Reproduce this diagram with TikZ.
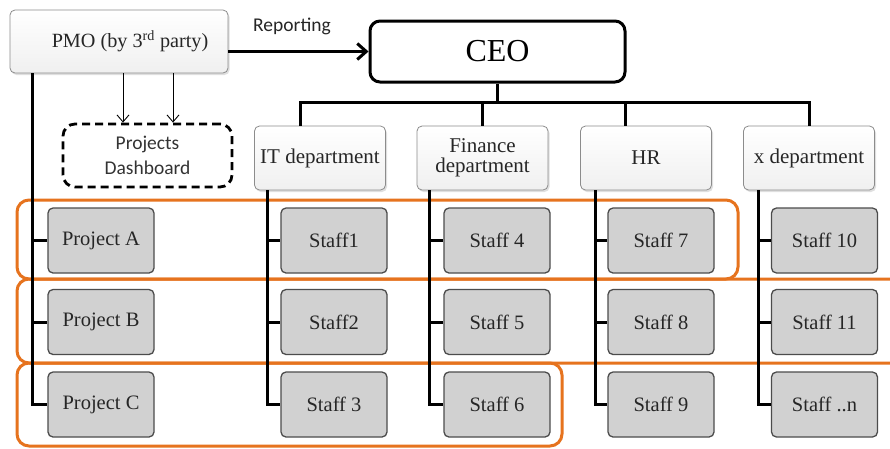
\documentclass[tikz,border=0pt]{standalone}
\usepackage{fontspec}
\setmainfont{Liberation Serif}
\newfontfamily\calfont{Carlito}
\usetikzlibrary{arrows.meta,shadows}
\definecolor{orng}{RGB}{230,115,30}
\begin{document}
\begin{tikzpicture}[x=1pt,y=-1pt]
\tikzset{
 dept/.style={draw=black!45, line width=0.8pt, rounded corners=5pt, top color=white, bottom color=black!6,
   drop shadow={opacity=0.25, shadow xshift=1.5pt, shadow yshift=-2pt},
   minimum width=131pt, minimum height=64pt, inner sep=0pt, align=center,
   font=\rmfamily\fontsize{21}{19.5}\selectfont, text=black!85},
 staffbox/.style={draw=black!70, line width=1.3pt, rounded corners=5pt, fill=black!18,
   minimum width=106pt, minimum height=65pt, inner sep=0pt,
   font=\rmfamily\fontsize{20.5}{22}\selectfont, text=black!85},
 conn/.style={line width=3pt, black},
 grp/.style={draw=orng, line width=3pt, rounded corners=12pt},
 thinarr/.style={line width=0.9pt, -{Straight Barb[length=7pt,width=12pt]}},
}
\useasboundingbox (0,0) rectangle (890,448);
\fill[white] (0,0) rectangle (890,448);
% orange groups
\begin{scope}
\clip (0,0) rectangle (890,448);
\draw[grp] (17,200) rectangle (738,279);
\draw[grp] (17,279) rectangle (910,363);
\draw[grp] (17,363) rectangle (562,446);
\end{scope}
% top nodes
\node[dept, minimum width=218pt, minimum height=63pt, font=\rmfamily\fontsize{20.2}{22}\selectfont] (PMO) at (119,41.5) {\hspace*{22pt}PMO (by 3\textsuperscript{rd} party)};
\node[draw, line width=3pt, rounded corners=10pt, fill=white, minimum width=255pt, minimum height=61pt, font=\rmfamily\fontsize{32}{36}\selectfont] (CEO) at (497.5,51.5) {CEO};
\node[font=\calfont\fontsize{19.5}{22}\selectfont, text=black!85] (rep) at (292,26) {Reporting};
\draw[conn, -{Straight Barb[length=9pt,width=16pt]}] (PMO.east |- CEO.west) -- (CEO.west);
\node[draw, line width=2.8pt, dash pattern=on 8pt off 5pt, rounded corners=12pt, minimum width=169pt, minimum height=63pt, align=center, font=\calfont\fontsize{19.5}{25}\selectfont, text=black!80] (dash) at (147.5,155.5) {Projects\\Dashboard};
\coordinate (d1) at ([xshift=-24.5pt]dash.north);
\coordinate (d2) at ([xshift=25.5pt]dash.north);
\draw[thinarr] (d1 |- PMO.south) -- (d1);
\draw[thinarr] (d2 |- PMO.south) -- (d2);
% departments
\node[dept] (IT) at (320,158) {IT department};
\node[dept] (Fin) at (482.5,158) {Finance\\department};
\node[dept] (HR) at (646,158) {HR};
\node[dept] (X) at (809,158) {x department};
\coordinate (bus) at (497.5,102);
\coordinate (itd) at ([xshift=-20pt]IT.north);
\coordinate (hrd) at ([xshift=-21pt]HR.north);
\draw[conn] (CEO.south) -- (bus);
\draw[conn] (itd) |- (bus -| X.north) -- (X.north);
\draw[conn] (Fin.north) -- (Fin.north |- bus);
\draw[conn] (hrd) -- (hrd |- bus);
% staff
\node[staffbox] (PA) at (101,240.5) {Project A};
\node[staffbox] (PB) at (101,322) {Project B};
\node[staffbox] (PC) at (101,404.5) {Project C};
\node[staffbox] (S1) at (334,240.5) {Staff1};
\node[staffbox] (S2) at (334,322) {Staff2};
\node[staffbox] (S3) at (334,404.5) {Staff 3};
\node[staffbox] (S4) at (497,240.5) {Staff 4};
\node[staffbox] (S5) at (497,322) {Staff 5};
\node[staffbox] (S6) at (497,404.5) {Staff 6};
\node[staffbox] (S7) at (661,240.5) {Staff 7};
\node[staffbox] (S8) at (661,322) {Staff 8};
\node[staffbox] (S9) at (661,404.5) {Staff 9};
\node[staffbox] (S10) at (824.5,240.5) {Staff 10};
\node[staffbox] (S11) at (824.5,322) {Staff 11};
\node[staffbox] (Sn) at (824.5,404.5) {Staff ..n};
% vertical lines
\coordinate (pv) at ([xshift=23pt]PMO.south west);
\coordinate (itv) at ([xshift=13pt]IT.south west);
\coordinate (fv) at ([xshift=13pt]Fin.south west);
\coordinate (hv) at ([xshift=15pt]HR.south west);
\coordinate (xv) at ([xshift=15pt]X.south west);
\draw[conn] (pv) |- (PC.west);
\draw[conn] (pv |- PA.west) -- (PA.west);
\draw[conn] (pv |- PB.west) -- (PB.west);
\draw[conn] (itv) |- (S3.west);
\draw[conn] (itv |- S1.west) -- (S1.west);
\draw[conn] (itv |- S2.west) -- (S2.west);
\draw[conn] (fv) |- (S6.west);
\draw[conn] (fv |- S4.west) -- (S4.west);
\draw[conn] (fv |- S5.west) -- (S5.west);
\draw[conn] (hv) |- (S9.west);
\draw[conn] (hv |- S7.west) -- (S7.west);
\draw[conn] (hv |- S8.west) -- (S8.west);
\draw[conn] (xv) |- (Sn.west);
\draw[conn] (xv |- S10.west) -- (S10.west);
\draw[conn] (xv |- S11.west) -- (S11.west);
\end{tikzpicture}
\end{document}
